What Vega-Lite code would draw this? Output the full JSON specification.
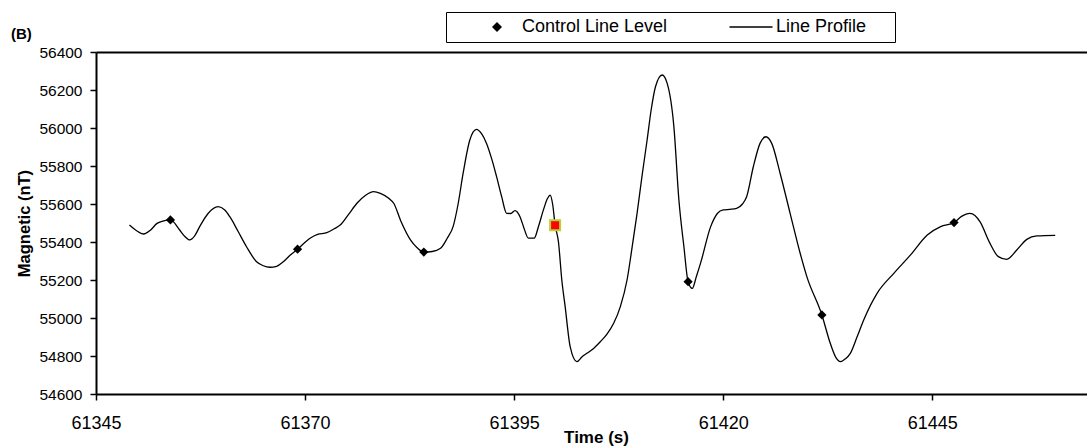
{
  "$schema": "https://vega.github.io/schema/vega-lite/v6.json",
  "width": 991,
  "height": 342,
  "autosize": {"type": "none"},
  "padding": {"left": 96, "top": 52, "right": 0, "bottom": 52},
  "background": "white",
  "config": {
    "view": {"stroke": null},
    "font": "Liberation Sans",
    "axis": {
      "grid": false,
      "domainColor": "black",
      "tickColor": "black",
      "labelColor": "black",
      "titleColor": "black",
      "labelFont": "Liberation Sans",
      "titleFont": "Liberation Sans",
      "labelFlush": false,
      "labelOverlap": false
    },
    "legend": {"labelFont": "Liberation Sans", "titleFont": "Liberation Sans"}
  },
  "title": {
    "text": "(B)",
    "anchor": "start",
    "frame": "group",
    "dx": -85,
    "dy": 55,
    "offset": 13,
    "baseline": "alphabetic",
    "fontSize": 15,
    "fontWeight": "bold",
    "font": "Liberation Sans",
    "color": "black"
  },
  "datasets": {
    "profile": [
      {"time": 61349.0, "nT": 55489},
      {"time": 61350.0, "nT": 55455},
      {"time": 61350.7, "nT": 55442},
      {"time": 61351.5, "nT": 55462},
      {"time": 61352.3, "nT": 55498},
      {"time": 61353.0, "nT": 55510},
      {"time": 61353.9, "nT": 55516},
      {"time": 61355.0, "nT": 55463},
      {"time": 61355.6, "nT": 55430},
      {"time": 61356.2, "nT": 55411},
      {"time": 61356.8, "nT": 55432},
      {"time": 61357.4, "nT": 55481},
      {"time": 61358.4, "nT": 55550},
      {"time": 61359.6, "nT": 55586},
      {"time": 61360.4, "nT": 55568},
      {"time": 61361.0, "nT": 55533},
      {"time": 61362.0, "nT": 55455},
      {"time": 61363.0, "nT": 55375},
      {"time": 61364.2, "nT": 55296},
      {"time": 61365.0, "nT": 55275},
      {"time": 61365.8, "nT": 55267},
      {"time": 61366.6, "nT": 55272},
      {"time": 61367.4, "nT": 55296},
      {"time": 61368.2, "nT": 55330},
      {"time": 61369.1, "nT": 55362},
      {"time": 61370.6, "nT": 55420},
      {"time": 61371.5, "nT": 55440},
      {"time": 61372.6, "nT": 55449},
      {"time": 61373.5, "nT": 55470},
      {"time": 61374.2, "nT": 55489},
      {"time": 61375.2, "nT": 55545},
      {"time": 61376.2, "nT": 55604},
      {"time": 61377.2, "nT": 55645},
      {"time": 61378.2, "nT": 55665},
      {"time": 61379.0, "nT": 55656},
      {"time": 61380.0, "nT": 55630},
      {"time": 61380.6, "nT": 55604},
      {"time": 61381.5, "nT": 55505},
      {"time": 61382.6, "nT": 55411},
      {"time": 61383.4, "nT": 55370},
      {"time": 61384.2, "nT": 55347},
      {"time": 61385.2, "nT": 55350},
      {"time": 61386.2, "nT": 55367},
      {"time": 61387.0, "nT": 55420},
      {"time": 61387.7, "nT": 55481},
      {"time": 61388.3, "nT": 55600},
      {"time": 61388.9, "nT": 55762},
      {"time": 61389.7, "nT": 55937},
      {"time": 61390.5, "nT": 55993},
      {"time": 61391.1, "nT": 55970},
      {"time": 61391.7, "nT": 55919},
      {"time": 61392.3, "nT": 55840},
      {"time": 61392.9, "nT": 55744},
      {"time": 61393.5, "nT": 55640},
      {"time": 61394.1, "nT": 55551},
      {"time": 61394.6, "nT": 55550},
      {"time": 61395.1, "nT": 55565},
      {"time": 61395.7, "nT": 55533},
      {"time": 61396.2, "nT": 55470},
      {"time": 61396.7, "nT": 55420},
      {"time": 61397.4, "nT": 55420},
      {"time": 61397.9, "nT": 55480},
      {"time": 61398.5, "nT": 55569},
      {"time": 61399.0, "nT": 55630},
      {"time": 61399.3, "nT": 55647},
      {"time": 61399.6, "nT": 55600},
      {"time": 61399.9, "nT": 55490},
      {"time": 61400.3, "nT": 55400},
      {"time": 61400.7, "nT": 55200},
      {"time": 61401.1, "nT": 55060},
      {"time": 61401.7, "nT": 54849},
      {"time": 61402.5, "nT": 54770},
      {"time": 61403.1, "nT": 54795},
      {"time": 61403.7, "nT": 54814},
      {"time": 61404.5, "nT": 54840},
      {"time": 61405.3, "nT": 54875},
      {"time": 61406.1, "nT": 54915},
      {"time": 61406.9, "nT": 54972},
      {"time": 61407.7, "nT": 55060},
      {"time": 61408.5, "nT": 55200},
      {"time": 61409.1, "nT": 55370},
      {"time": 61409.7, "nT": 55551},
      {"time": 61410.3, "nT": 55750},
      {"time": 61410.9, "nT": 55937},
      {"time": 61411.4, "nT": 56100},
      {"time": 61411.9, "nT": 56217},
      {"time": 61412.7, "nT": 56279},
      {"time": 61413.3, "nT": 56235},
      {"time": 61414.1, "nT": 56007},
      {"time": 61414.7, "nT": 55621},
      {"time": 61415.3, "nT": 55375},
      {"time": 61415.8, "nT": 55191},
      {"time": 61416.3, "nT": 55156},
      {"time": 61416.8, "nT": 55220},
      {"time": 61417.3, "nT": 55290},
      {"time": 61418.5, "nT": 55481},
      {"time": 61419.3, "nT": 55550},
      {"time": 61420.0, "nT": 55569},
      {"time": 61420.8, "nT": 55572},
      {"time": 61421.6, "nT": 55577},
      {"time": 61422.3, "nT": 55600},
      {"time": 61422.8, "nT": 55638},
      {"time": 61423.6, "nT": 55796},
      {"time": 61424.4, "nT": 55919},
      {"time": 61425.1, "nT": 55954},
      {"time": 61425.8, "nT": 55919},
      {"time": 61426.8, "nT": 55762},
      {"time": 61428.0, "nT": 55551},
      {"time": 61429.2, "nT": 55341},
      {"time": 61430.0, "nT": 55218},
      {"time": 61431.8, "nT": 55016},
      {"time": 61432.8, "nT": 54867},
      {"time": 61433.5, "nT": 54790},
      {"time": 61434.0, "nT": 54770},
      {"time": 61434.6, "nT": 54785},
      {"time": 61435.2, "nT": 54814},
      {"time": 61436.0, "nT": 54900},
      {"time": 61436.8, "nT": 54990},
      {"time": 61438.4, "nT": 55130},
      {"time": 61440.4, "nT": 55235},
      {"time": 61442.4, "nT": 55332},
      {"time": 61444.4, "nT": 55437},
      {"time": 61446.0, "nT": 55481},
      {"time": 61447.6, "nT": 55502},
      {"time": 61448.5, "nT": 55535},
      {"time": 61449.5, "nT": 55551},
      {"time": 61450.1, "nT": 55540},
      {"time": 61450.7, "nT": 55507},
      {"time": 61451.9, "nT": 55393},
      {"time": 61452.9, "nT": 55323},
      {"time": 61453.9, "nT": 55309},
      {"time": 61455.1, "nT": 55358},
      {"time": 61456.3, "nT": 55414},
      {"time": 61457.5, "nT": 55432},
      {"time": 61459.7, "nT": 55435}
    ],
    "control": [
      {"time": 61353.9, "nT": 55516, "series": "Control Line Level"},
      {"time": 61369.1, "nT": 55362, "series": "Control Line Level"},
      {"time": 61384.2, "nT": 55347, "series": "Control Line Level"},
      {"time": 61415.8, "nT": 55191, "series": "Control Line Level"},
      {"time": 61431.8, "nT": 55016, "series": "Control Line Level"},
      {"time": 61447.6, "nT": 55502, "series": "Control Line Level"}
    ],
    "highlight": [
      {"time": 61399.9, "nT": 55488}
    ]
  },
  "layer": [
    {
      "data": {"name": "profile"},
      "mark": {"type": "line", "color": "black", "strokeWidth": 1.3, "interpolate": "monotone"},
      "encoding": {
        "x": {
          "field": "time",
          "type": "quantitative",
          "scale": {"domain": [61345, 61463.5], "nice": false, "zero": false},
          "axis": {
            "orient": "bottom",
            "values": [61345, 61370, 61395, 61420, 61445],
            "tickCount": 20,
            "format": "d",
            "title": "Time (s)",
            "labelFontSize": 18,
            "labelBaseline": "alphabetic",
            "labelPadding": 28,
            "labelOverlap": false,
            "tickSize": 6,
            "tickWidth": 1.5,
            "domainWidth": 2,
            "titleFontSize": 17,
            "titleFontWeight": "bold",
            "titleX": 500,
            "titleY": 48,
            "titleBaseline": "alphabetic",
            "titleAlign": "center"
          }
        },
        "y": {
          "field": "nT",
          "type": "quantitative",
          "scale": {"domain": [54600, 56400], "nice": false, "zero": false},
          "axis": {
            "values": [54600, 54800, 55000, 55200, 55400, 55600, 55800, 56000, 56200, 56400],
            "tickCount": 20,
            "format": "d",
            "title": "Magnetic (nT)",
            "labelFontSize": 15.5,
            "labelPadding": 8,
            "labelOverlap": false,
            "labelBound": false,
            "tickSize": 6,
            "tickWidth": 1.5,
            "domainWidth": 2,
            "titleFontSize": 16.5,
            "titleFontWeight": "bold",
            "titleAngle": 270,
            "titleX": -72,
            "titleY": 171,
            "titleBaseline": "middle",
            "titleAlign": "center"
          }
        }
      }
    },
    {
      "data": {"name": "control"},
      "mark": {"type": "point", "filled": true, "color": "black", "opacity": 1, "size": 85},
      "encoding": {
        "x": {"field": "time", "type": "quantitative", "axis": null},
        "y": {"field": "nT", "type": "quantitative"},
        "shape": {
          "field": "series",
          "type": "nominal",
          "scale": {"domain": ["Control Line Level", "Line Profile"], "range": ["diamond", "M-4.3,-0.13H4.3V0.13H-4.3Z"]},
          "legend": {
            "orient": "none",
            "legendX": 350,
            "legendY": -40,
            "direction": "horizontal",
            "title": "\u00a0",
            "titleOrient": "right",
            "titleFontSize": 18,
            "titlePadding": 23,
            "strokeColor": "black",
            "fillColor": "white",
            "padding": 6,
            "symbolSize": 100,
            "symbolOffset": 36,
            "symbolFillColor": "black",
            "symbolStrokeColor": "black",
            "symbolOpacity": 1,
            "labelFontSize": 18,
            "labelColor": "black",
            "labelOffset": 16,
            "columnPadding": 38,
            "labelLimit": 400
          }
        }
      }
    },
    {
      "data": {"name": "highlight"},
      "mark": {"type": "point", "shape": "square", "filled": true, "fill": "#FF0000", "stroke": "#B5D334", "strokeWidth": 2, "opacity": 1, "size": 100},
      "encoding": {
        "x": {
          "field": "time",
          "type": "quantitative",
          "axis": {"orient": "top", "labels": false, "ticks": false, "title": null, "domainWidth": 2, "domainColor": "black"}
        },
        "y": {"field": "nT", "type": "quantitative"}
      }
    }
  ],
  "resolve": {"axis": {"x": "independent"}}
}
